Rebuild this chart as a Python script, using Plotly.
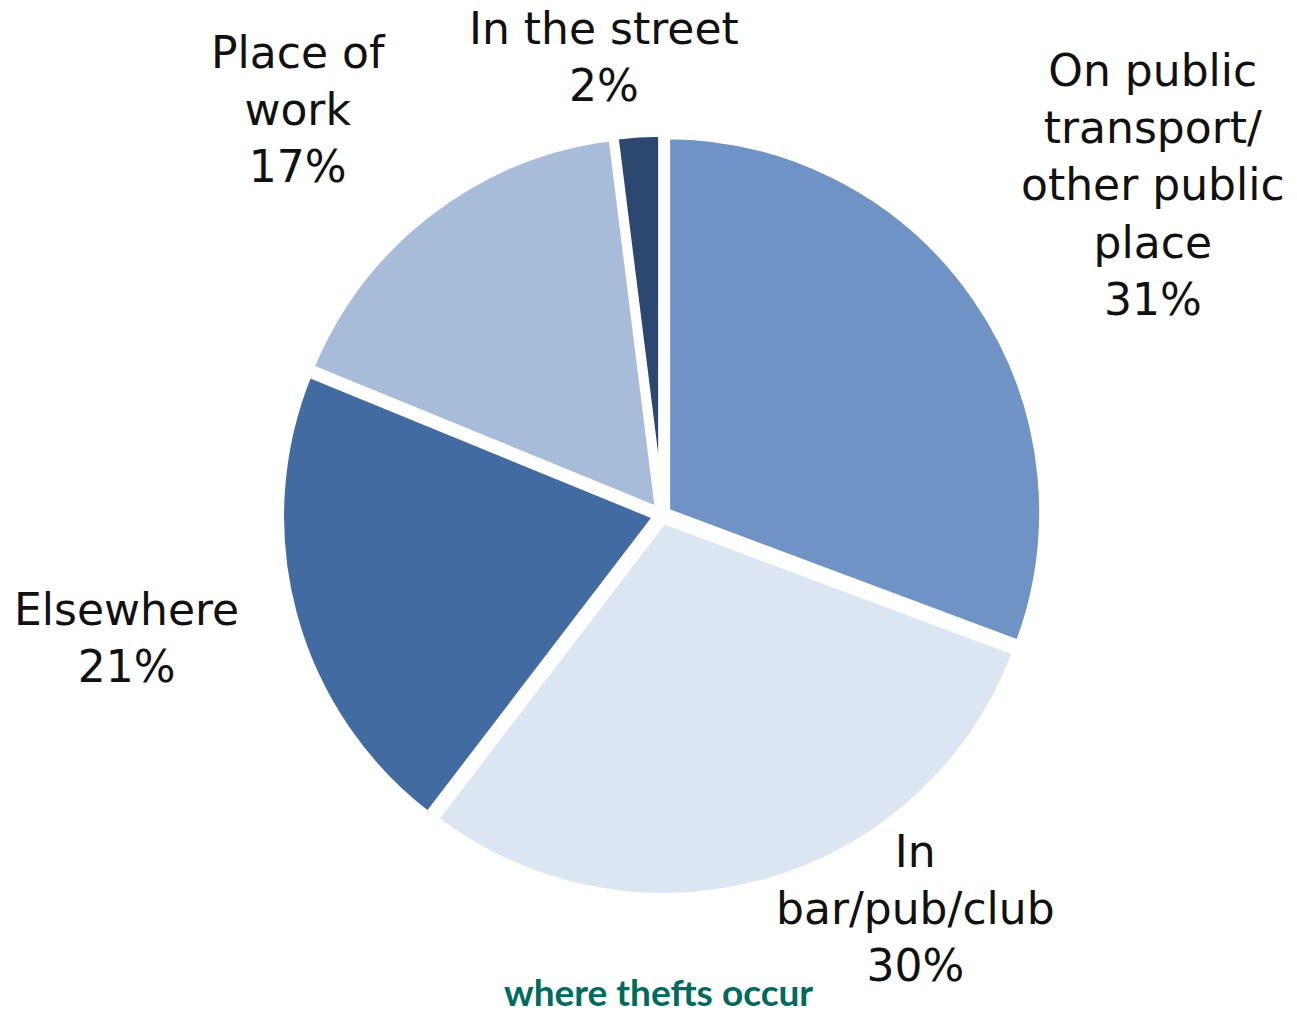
import plotly.graph_objects as go

categories = ["On public<br>transport/<br>other public<br>place", "In<br>bar/pub/club", "Elsewhere", "Place of<br>work", "In the street"]
values = [31, 30, 21, 17, 2]
colors = ["#6f93c5", "#dce6f2", "#426ba2", "#a7bcd9", "#2c4770"]
title_text = "where thefts occur"

W, H = 1297, 1016
cx, cy, r = 662, 515, 376
pull = 0.015
half = r * (1 + pull)

fig = go.Figure(go.Pie(
    labels=categories,
    values=values,
    sort=False,
    direction="clockwise",
    rotation=0,
    marker=dict(colors=colors, line=dict(color="white", width=7)),
    pull=[pull] * len(values),
    textinfo="none",
    hoverinfo="label+percent",
    showlegend=False,
    domain=dict(x=[(cx - half) / W, (cx + half) / W],
                y=[(H - cy - half) / H, (H - cy + half) / H]),
))

# label positions (pixel centre x, centre y)
label_pos = [(1153, 185), (915, 908), (126, 638), (298, 109), (604, 57)]
for cat, v, (lx, ly) in zip(categories, values, label_pos):
    fig.add_annotation(
        text=f"{cat}<br>{v}%",
        x=lx / W, y=(H - ly) / H, xref="paper", yref="paper",
        xanchor="center", yanchor="middle", showarrow=False,
        font=dict(family="DejaVu Sans", size=44, color="#111111"),
    )

fig.add_annotation(
    text=f"<b>{title_text}</b>",
    x=658 / W, y=0, xref="paper", yref="paper",
    xanchor="center", yanchor="bottom", showarrow=False,
    font=dict(family="Lato", size=37, color="#006a5d"),
)

fig.update_layout(
    width=W, height=H,
    margin=dict(l=0, r=0, t=0, b=0),
    paper_bgcolor="white", plot_bgcolor="white",
)
fig.write_html("out.html")
